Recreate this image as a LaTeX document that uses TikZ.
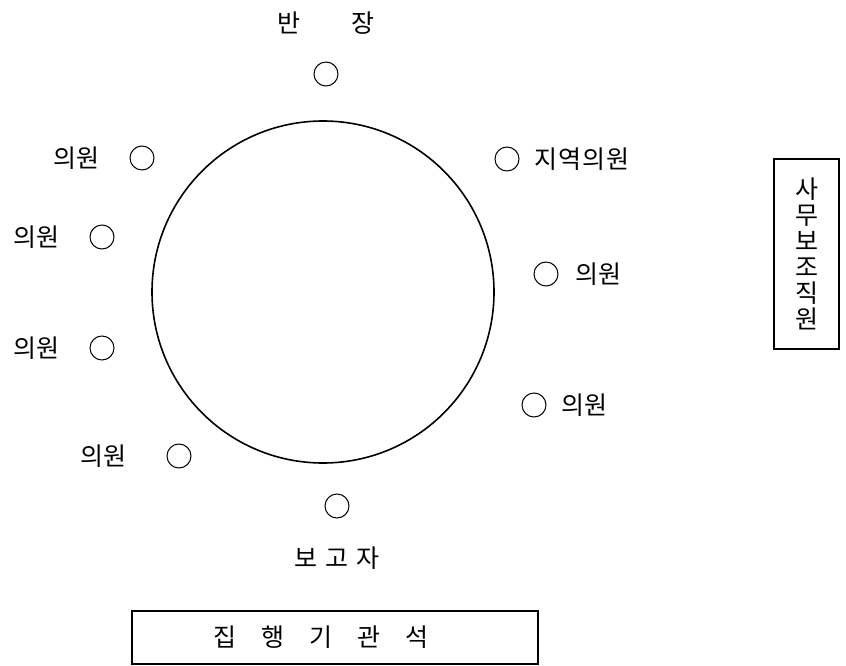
\documentclass[tikz,border=0pt]{standalone}
\usepackage{fontspec}
\setmainfont{Noto Sans CJK KR}
\usepackage{tikz}
\usetikzlibrary{positioning}
\tikzstyle{seat} = [circle, draw=black, line width=1pt, minimum size=24pt, inner sep=0pt]
\tikzstyle{member} = [inner sep=0pt, font=\fontsize{25}{26}\selectfont, text=black]
\tikzstyle{desk} = [rectangle, draw=black, line width=1.5pt, inner sep=0pt, font=\fontsize{25}{26}\selectfont, text=black, align=center]
\tikzstyle{table} = [circle, draw=black, line width=1.6pt, minimum size=342pt, inner sep=0pt]

\begin{document}
\begin{tikzpicture}[x=1pt,y=-1pt]
	\useasboundingbox (0,0) rectangle (846,666);
	\node (round) [table] at (323,292) {};
	% seats round the table
	\node (chair) [seat] at (326,74) {};
	\node (m1) [seat] at (142,158) {};
	\node (m2) [seat] at (102,237) {};
	\node (m3) [seat] at (102,348) {};
	\node (m4) [seat] at (179,456) {};
	\node (r1) [seat] at (507,159) {};
	\node (r2) [seat] at (546,274) {};
	\node (r3) [seat] at (534,405) {};
	\node (rep) [seat] at (337,506) {};
	% labels
	\node (chairtxt) [member, above=27pt of chair] {반\hspace{51pt}장};
	\node (m1txt) [member, left=30pt of m1] {의원};
	\node (m2txt) [member, left=30pt of m2] {의원};
	\node (m3txt) [member, left=30pt of m3] {의원};
	\node (m4txt) [member, left=40pt of m4] {의원};
	\node (r1txt) [member, right=15pt of r1] {지\hspace{1pt}역\hspace{1pt}의\hspace{1pt}원};
	\node (r2txt) [member, right=17pt of r2] {의원};
	\node (r3txt) [member, right=15pt of r3] {의원};
	\node (reptxt) [member, below=28pt of rep] {보\hspace{8pt}고\hspace{8pt}자};
	% side desks
	\node (clerk) [desk, minimum width=65pt, minimum height=190pt] at (806.5,254) {사\\무\\보\\조\\직\\원};
	\node (exec) [desk, minimum width=406pt, minimum height=53pt] at (335,637.5) {집\hspace{25pt}행\hspace{25pt}기\hspace{25pt}관\hspace{25pt}석\hspace{28pt}};
\end{tikzpicture}
\end{document}
